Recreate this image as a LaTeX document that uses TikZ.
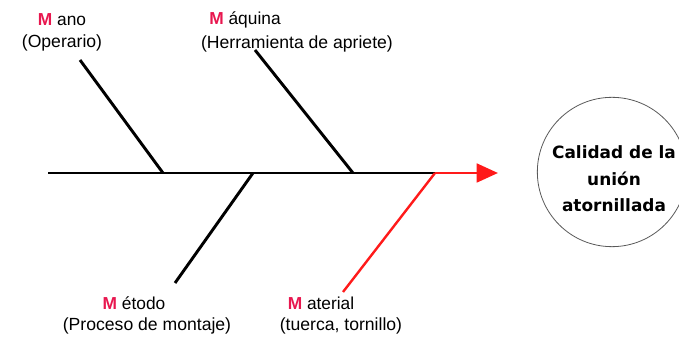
\documentclass[tikz,border=0pt]{standalone}
\usepackage{fontspec}
\setmainfont{Liberation Sans}
\newfontfamily\effectfont{DejaVu Sans}
\usetikzlibrary{positioning,arrows.meta}
\definecolor{mred}{HTML}{E8174F}
\definecolor{linered}{HTML}{FF1A1A}
\newcommand{\bigM}{\textcolor{mred}{\textbf{M}}}

\begin{document}
\begin{tikzpicture}[x=0.75pt,y=-0.75pt,font=\fontsize{13}{15}\selectfont,
  bone/.style={line width=2.2pt},
  cause/.style={inner sep=0pt,anchor=center},
  detail/.style={inner sep=0pt,anchor=center,font=\fontsize{13.2}{15}\selectfont}]
  \useasboundingbox (0,0) rectangle (679,338);
  % spine
  \coordinate (tail) at (48,173);
  \coordinate (jmano) at (163,173);
  \coordinate (jmet) at (253,173);
  \coordinate (jmaq) at (353,173);
  \coordinate (jmat) at (435,173);
  \coordinate (head) at (498,173);
  % bone ends
  \coordinate (emano) at (80,60);
  \coordinate (emaq) at (255,50);
  \coordinate (emet) at (175,283);
  \coordinate (emat) at (343,292);
  % labels
  \node[cause] (mano) at (62,20) {\bigM\ ano};
  \node[detail] (manod) at (62,43) {(Operario)};
  \node[cause] (maq) at (245,20) {\bigM\ áquina};
  \node[detail] (maqd) at (297,44) {(Herramienta de apriete)};
  \node[cause] (met) at (134,303) {\bigM\ étodo};
  \node[detail] (metd) at (147,326) {(Proceso de montaje)};
  \node[cause] (mat) at (321,303) {\bigM\ aterial};
  \node[detail] (matd) at (341,326) {(tuerca, tornillo)};
  % effect
  \node[circle,draw=black!65,line width=0.6pt,minimum size=112pt,inner sep=0pt] (effect) at (612,172) {};
  \node[align=center,inner sep=0pt,font=\effectfont\bfseries\fontsize{12.7}{20}\selectfont] (effectlbl) at (614,179) {Calidad de la\\unión\\atornillada};
  \draw[bone] (tail) -- (jmat);
  \draw[bone,linered,-{Triangle[length=16pt,width=14pt]}] (jmat) -- (head);
  \draw[bone] (emano) -- (jmano);
  \draw[bone] (emaq) -- (jmaq);
  \draw[bone] (jmet) -- (emet);
  \draw[bone,linered,line width=1.8pt] (jmat) -- (emat);
\end{tikzpicture}
\end{document}
